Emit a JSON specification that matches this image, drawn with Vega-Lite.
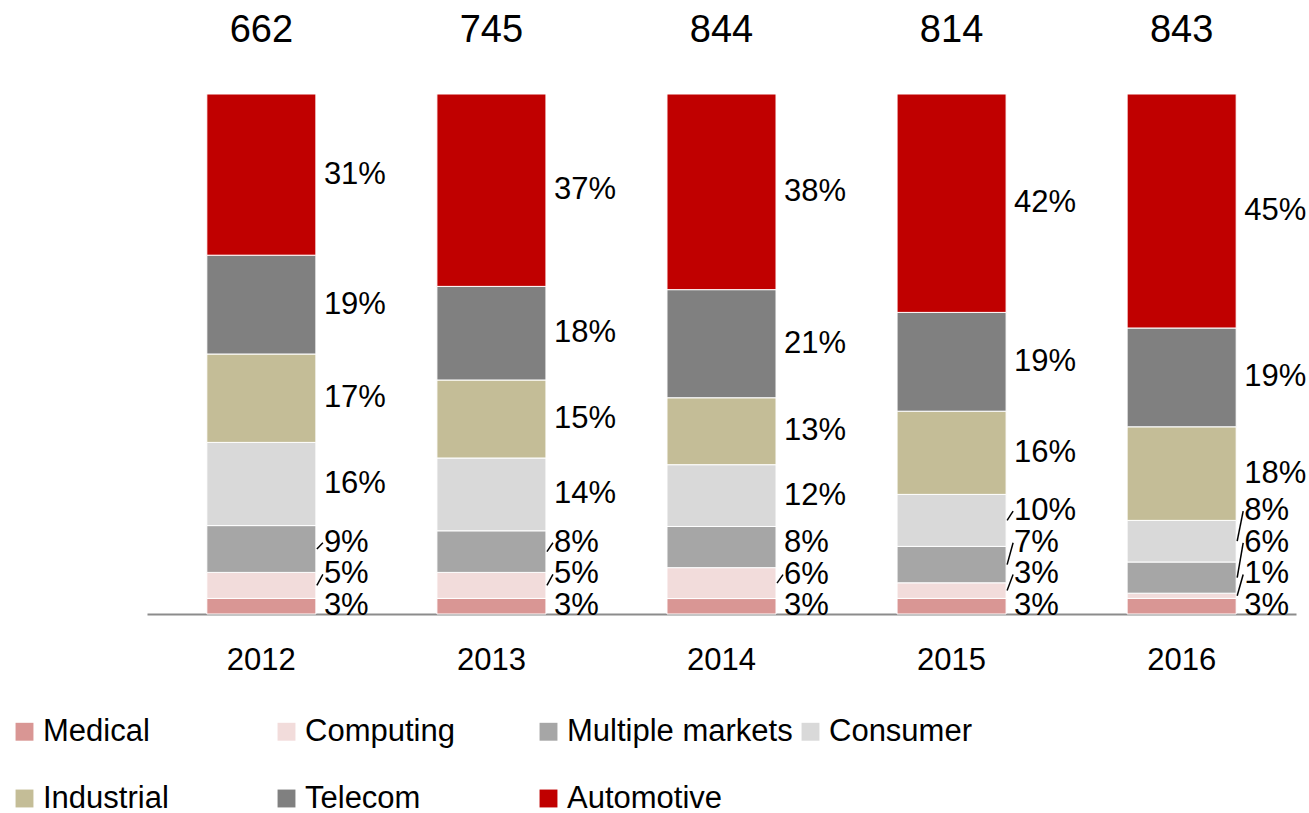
{
  "$schema": "https://vega.github.io/schema/vega-lite/v6.json",
  "width": 1149,
  "height": 520,
  "autosize": {"type": "none"},
  "padding": {"left": 147, "top": 94, "right": 13, "bottom": 199},
  "config": {
    "view": {"stroke": null},
    "font": "Liberation Sans, Arial, sans-serif",
    "text": {"font": "Liberation Sans, Arial, sans-serif", "color": "black"}
  },
  "datasets": {
    "shares": [
      {"year": "2012", "category": "Medical", "pct": 3},
      {"year": "2012", "category": "Computing", "pct": 5},
      {"year": "2012", "category": "Multiple markets", "pct": 9},
      {"year": "2012", "category": "Consumer", "pct": 16},
      {"year": "2012", "category": "Industrial", "pct": 17},
      {"year": "2012", "category": "Telecom", "pct": 19},
      {"year": "2012", "category": "Automotive", "pct": 31},
      {"year": "2013", "category": "Medical", "pct": 3},
      {"year": "2013", "category": "Computing", "pct": 5},
      {"year": "2013", "category": "Multiple markets", "pct": 8},
      {"year": "2013", "category": "Consumer", "pct": 14},
      {"year": "2013", "category": "Industrial", "pct": 15},
      {"year": "2013", "category": "Telecom", "pct": 18},
      {"year": "2013", "category": "Automotive", "pct": 37},
      {"year": "2014", "category": "Medical", "pct": 3},
      {"year": "2014", "category": "Computing", "pct": 6},
      {"year": "2014", "category": "Multiple markets", "pct": 8},
      {"year": "2014", "category": "Consumer", "pct": 12},
      {"year": "2014", "category": "Industrial", "pct": 13},
      {"year": "2014", "category": "Telecom", "pct": 21},
      {"year": "2014", "category": "Automotive", "pct": 38},
      {"year": "2015", "category": "Medical", "pct": 3},
      {"year": "2015", "category": "Computing", "pct": 3},
      {"year": "2015", "category": "Multiple markets", "pct": 7},
      {"year": "2015", "category": "Consumer", "pct": 10},
      {"year": "2015", "category": "Industrial", "pct": 16},
      {"year": "2015", "category": "Telecom", "pct": 19},
      {"year": "2015", "category": "Automotive", "pct": 42},
      {"year": "2016", "category": "Medical", "pct": 3},
      {"year": "2016", "category": "Computing", "pct": 1},
      {"year": "2016", "category": "Multiple markets", "pct": 6},
      {"year": "2016", "category": "Consumer", "pct": 8},
      {"year": "2016", "category": "Industrial", "pct": 18},
      {"year": "2016", "category": "Telecom", "pct": 19},
      {"year": "2016", "category": "Automotive", "pct": 45}
    ],
    "totals": [
      {"year": "2012", "total": 662},
      {"year": "2013", "total": 745},
      {"year": "2014", "total": 844},
      {"year": "2015", "total": 814},
      {"year": "2016", "total": 843}
    ]
  },
  "layer": [
    {
      "data": {"name": "shares"},
      "transform": [
        {"calculate": "indexof(['Medical','Computing','Multiple markets','Consumer','Industrial','Telecom','Automotive'], datum.category)", "as": "k"}
      ],
      "mark": {"type": "bar", "stroke": "white", "strokeWidth": 1},
      "encoding": {
        "x": {
          "field": "year", "type": "nominal",
          "scale": {"paddingInner": 0.526, "paddingOuter": 0.26},
          "axis": {
            "title": null, "labelAngle": 0, "ticks": false, "labelPadding": 31,
            "labelFontSize": 31, "labelColor": "black",
            "labelFont": "Liberation Sans, Arial, sans-serif",
            "domainColor": "#8c8c8c", "domainWidth": 2
          }
        },
        "y": {"field": "pct", "type": "quantitative", "stack": "normalize", "scale": {"domain": [0, 1]}, "axis": null},
        "color": {
          "field": "category", "type": "nominal",
          "scale": {
            "domain": ["Medical", "Computing", "Multiple markets", "Consumer", "Industrial", "Telecom", "Automotive"],
            "range": ["#D99694", "#F2DCDB", "#A6A6A6", "#D9D9D9", "#C4BD97", "#808080", "#C00000"]
          },
          "legend": {
            "title": null, "orient": "none", "legendX": -138, "legendY": 622,
            "direction": "horizontal", "columns": 4, "gridAlign": "all",
            "symbolType": "square", "symbolSize": 320, "symbolStrokeWidth": 0,
            "labelFontSize": 31, "labelColor": "black", "labelLimit": 400,
            "labelFont": "Liberation Sans, Arial, sans-serif",
            "labelOffset": 3, "columnPadding": 2, "rowPadding": 35, "padding": 0
          }
        },
        "order": {"field": "k", "type": "quantitative"}
      }
    },
    {
      "data": {"name": "shares"},
      "transform": [
        {"calculate": "indexof(['Medical','Computing','Multiple markets','Consumer','Industrial','Telecom','Automotive'], datum.category)", "as": "k"},
        {"stack": "pct", "groupby": ["year"], "sort": [{"field": "k", "order": "ascending"}], "offset": "normalize", "as": ["y0", "y1"]},
        {"calculate": "(datum.y0 + datum.y1) / 2", "as": "mid"},
        {"calculate": "datum.mid - datum.k * 0.061", "as": "v"},
        {"window": [{"op": "max", "field": "v", "as": "vmax"}], "groupby": ["year"], "sort": [{"field": "k", "order": "ascending"}], "frame": [null, 0]},
        {"calculate": "datum.vmax + datum.k * 0.061", "as": "ly"},
        {"calculate": "datum.pct + '%'", "as": "label"}
      ],
      "layer": [
        {
          "mark": {"type": "text", "align": "left", "baseline": "middle", "dx": 8, "fontSize": 31},
          "encoding": {
            "x": {"field": "year", "type": "nominal", "bandPosition": 1},
            "y": {"field": "ly", "type": "quantitative", "scale": {"domain": [0, 1]}, "axis": null},
            "text": {"field": "label"}
          }
        },
        {
          "transform": [{"filter": "abs(datum.ly - datum.mid) > 0.012"}],
          "mark": {"type": "rule", "color": "black", "strokeWidth": 1.5, "xOffset": 1, "x2Offset": 7},
          "encoding": {
            "x": {"field": "year", "type": "nominal", "bandPosition": 1},
            "x2": {"field": "year", "bandPosition": 1},
            "y": {"field": "mid", "type": "quantitative", "scale": {"domain": [0, 1]}, "axis": null},
            "y2": {"field": "ly"}
          }
        }
      ]
    },
    {
      "data": {"name": "totals"},
      "mark": {"type": "text", "align": "center", "baseline": "middle", "dy": -63, "fontSize": 38},
      "encoding": {
        "x": {"field": "year", "type": "nominal"},
        "y": {"datum": 1, "type": "quantitative", "scale": {"domain": [0, 1]}, "axis": null},
        "text": {"field": "total", "type": "quantitative"}
      }
    }
  ]
}
